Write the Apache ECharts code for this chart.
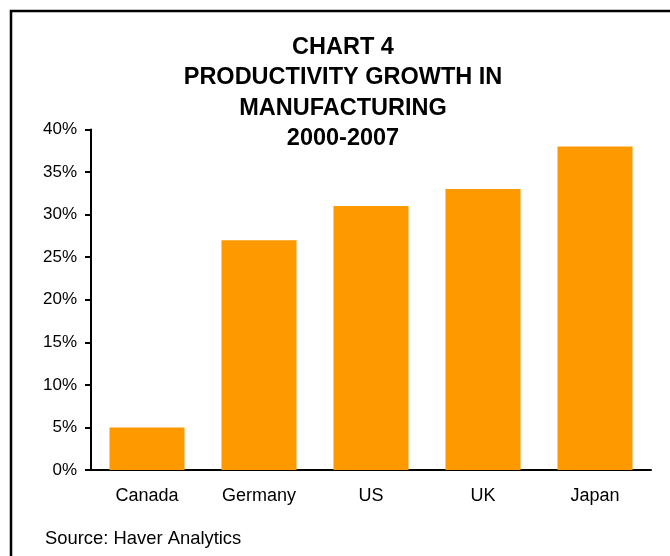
<!DOCTYPE html>
<html>
<head>
<meta charset="utf-8">
<script src="https://cdn.jsdelivr.net/npm/echarts@6/dist/echarts.min.js"></script>
<style>
html,body{margin:0;padding:0;background:#fff;}
#chart{width:670px;height:556px;}
</style>
</head>
<body>
<div id="chart"></div>
<script>
var categories = ['Canada', 'Germany', 'US', 'UK', 'Japan'];
var productivityGrowth = [5, 27, 31, 33, 38];
var titleLines = ['CHART 4', 'PRODUCTIVITY GROWTH IN', 'MANUFACTURING', '2000-2007'];
var sourceText = 'Source: Haver Analytics';

var chart = echarts.init(document.getElementById('chart'), null, {renderer: 'canvas'});
var font = 'Liberation Sans, Arial, sans-serif';
chart.setOption({
  animation: false,
  backgroundColor: '#ffffff',
  title: {
    text: titleLines.join('\n'),
    left: 338,
    textAlign: 'center',
    top: 27,
    textStyle: {fontFamily: font, fontSize: 23.5, fontWeight: 'bold', color: '#000', lineHeight: 30.5}
  },
  graphic: [
    {type: 'rect', shape: {x: 11, y: 11, width: 700, height: 600}, style: {fill: 'none', stroke: '#000', lineWidth: 2.5}, z: 10},
    {type: 'text', left: 45, top: 530, style: {text: sourceText, fontFamily: font, fontSize: 18.4, fill: '#000'}}
  ],
  grid: {left: 91, right: 19, top: 129.5, bottom: 86, containLabel: false},
  xAxis: {
    type: 'category',
    data: categories,
    axisLine: {lineStyle: {color: '#000', width: 2}},
    axisTick: {show: false},
    axisLabel: {fontFamily: font, fontSize: 18, color: '#000', margin: 17}
  },
  yAxis: {
    type: 'value',
    min: 0,
    max: 40,
    interval: 5,
    axisLine: {show: true, lineStyle: {color: '#000', width: 2}},
    axisTick: {show: true, length: 6, lineStyle: {color: '#000', width: 2}},
    splitLine: {show: false},
    axisLabel: {fontFamily: font, fontSize: 17, color: '#000', margin: 14, formatter: '{value}%'}
  },
  series: [{
    type: 'bar',
    data: productivityGrowth,
    barWidth: '67%',
    itemStyle: {color: '#FF9900'}
  }]
});
</script>
</body>
</html>
